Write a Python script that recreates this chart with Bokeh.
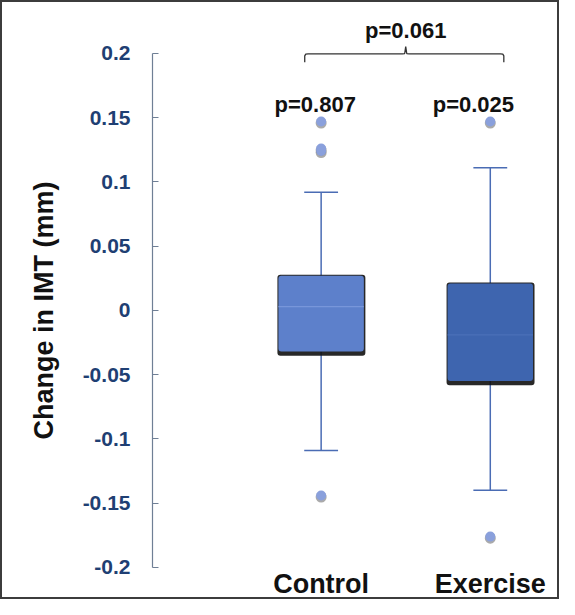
from bokeh.plotting import figure
from bokeh.models import Range1d, FixedTicker, Title
from bokeh.core.properties import value
from bokeh.embed import file_html
from bokeh.resources import INLINE

# ---------------- data ----------------
categories = ["Control", "Exercise"]
q1 = [-0.032, -0.055]
medians = [0.003, -0.019]
q3 = [0.027, 0.021]
whisker_low = [-0.109, -0.140]
whisker_high = [0.092, 0.111]
outlier_group = ["Control", "Control", "Control", "Control", "Exercise", "Exercise"]
outlier_values = [0.147, 0.126, 0.124, -0.144, 0.147, -0.176]
within_p = ["p=0.807", "p=0.025"]
between_p = "p=0.061"
y_ticks = [-0.2, -0.15, -0.1, -0.05, 0, 0.05, 0.1, 0.15, 0.2]
y_tick_labels = ["-0.2", "-0.15", "-0.1", "-0.05", "0", "0.05", "0.1", "0.15", "0.2"]
y_title = "Change in IMT (mm)"

# ---------------- styles ----------------
box_colors = ["#5d80cb", "#3e65af"]
median_colors = ["#7896da", "#4b70b8"]
whisker_color = "#4a6cb4"
outlier_color = "#8aa0dc"
axis_color = "#6f7f95"
tick_label_color = "#1f3f73"
FONT = "Liberation Sans"

pos = [i + 1 for i in range(len(categories))]
pos_of = {c: p for c, p in zip(categories, pos)}
box_w = 0.505
cap_w = 0.2

p = figure(width=559, height=599, output_backend="svg", toolbar_location=None,
           x_range=Range1d(0.003, 2.421), y_range=Range1d(-0.2047, 0.2396),
           min_border_left=150, min_border_right=0, min_border_top=0,
           min_border_bottom=26)
p.styles = {"border": "2px solid #3c3c3c", "box-sizing": "border-box"}
p.outline_line_color = None
p.xgrid.grid_line_color = None
p.ygrid.grid_line_color = None
p.background_fill_color = "white"
p.border_fill_color = "white"

# y axis
ya = p.yaxis[0]
ya.ticker = FixedTicker(ticks=y_ticks)
ya.major_label_overrides = {t: l for t, l in zip(y_ticks, y_tick_labels)}
ya.bounds = (min(y_ticks), max(y_ticks))
ya.axis_line_color = axis_color
ya.axis_line_width = 1.2
ya.major_tick_line_color = axis_color
ya.major_tick_in = 6
ya.major_tick_out = 0
ya.minor_tick_line_color = None
ya.major_label_text_font = FONT
ya.major_label_text_font_style = "bold"
ya.major_label_text_font_size = "21px"
ya.major_label_text_color = tick_label_color
ya.major_label_standoff = 22

# y axis title (as a side title so it can be placed like the original)
p.add_layout(Title(text=y_title, text_font=FONT, text_font_style="bold",
                   text_font_size="27px", text_color="#111111",
                   align="left", offset=134, vertical_align="middle", standoff=40), "left")

# x axis
xa = p.xaxis[0]
xa.ticker = FixedTicker(ticks=pos)
xa.major_label_overrides = {k: c for k, c in zip(pos, categories)}
xa.axis_line_color = None
xa.major_tick_line_color = None
xa.minor_tick_line_color = None
xa.major_tick_in = 0
xa.major_tick_out = 0
xa.major_label_text_font = FONT
xa.major_label_text_font_style = "bold"
xa.major_label_text_font_size = "27px"
xa.major_label_text_color = "#111111"
xa.major_label_standoff = -5

# whiskers
for i, x in enumerate(pos):
    p.segment(x0=[x, x], y0=[q3[i], q1[i]], x1=[x, x], y1=[whisker_high[i], whisker_low[i]],
              line_color=whisker_color, line_width=1.5)
    p.segment(x0=[x - cap_w / 2, x - cap_w / 2], y0=[whisker_high[i], whisker_low[i]],
              x1=[x + cap_w / 2, x + cap_w / 2], y1=[whisker_high[i], whisker_low[i]],
              line_color=whisker_color, line_width=1.5)

# box shadows then boxes
left = [x - box_w / 2 for x in pos]
right = [x + box_w / 2 for x in pos]
p.quad(left=[l - 0.006 for l in left], right=[r + 0.009 for r in right],
       bottom=[b - 0.0032 for b in q1], top=[t + 0.0008 for t in q3],
       fill_color="#111111", fill_alpha=0.9, line_color=None, border_radius=3)
p.quad(left=left, right=right, bottom=q1, top=q3, fill_color=box_colors,
       line_color=None, border_radius=3)
p.segment(x0=left, y0=medians, x1=right, y1=medians, line_color=median_colors, line_width=1.2)

# outliers (with soft shadow)
ox = [pos_of[g] for g in outlier_group]
p.scatter(x=ox, y=[v - 0.0012 for v in outlier_values], size=11, marker="circle",
          fill_color="#555555", fill_alpha=0.5, line_color=None)
p.scatter(x=ox, y=outlier_values, size=10, marker="circle",
          fill_color=outlier_color, line_color=None)

# within-group p values
p.text(x=[x + d for x, d in zip(pos, [-0.035, -0.1])], y=[0.1605, 0.1605], text=within_p,
       text_font=value(FONT), text_font_style="bold", text_font_size="22px",
       text_color="#111111", text_align="center", text_baseline="alphabetic")

# bracket between groups
bl, br, bm = pos[0] - 0.097, pos[1] + 0.08, (pos[0] + pos[1]) / 2
yl, ye, yn = 0.1996, 0.1932, 0.2092
bx = [bl, bl, bl + 0.006, bl + 0.02, bm - 0.02, bm - 0.006, bm, bm + 0.006, bm + 0.02,
      br - 0.02, br - 0.006, br, br]
by = [ye, yl - 0.0015, yl - 0.0002, yl, yl, yl + 0.0003, yn - 0.004, yl + 0.0003, yl,
      yl, yl - 0.0002, yl - 0.0015, ye]
p.line(x=bx, y=by, line_color="#333333", line_width=1.3)
p.text(x=[bm], y=[0.2180], text=[between_p],
       text_font=value(FONT), text_font_style="bold", text_font_size="22px",
       text_color="#111111", text_align="center", text_baseline="alphabetic")

open("out.html", "w").write(file_html(p, INLINE))
